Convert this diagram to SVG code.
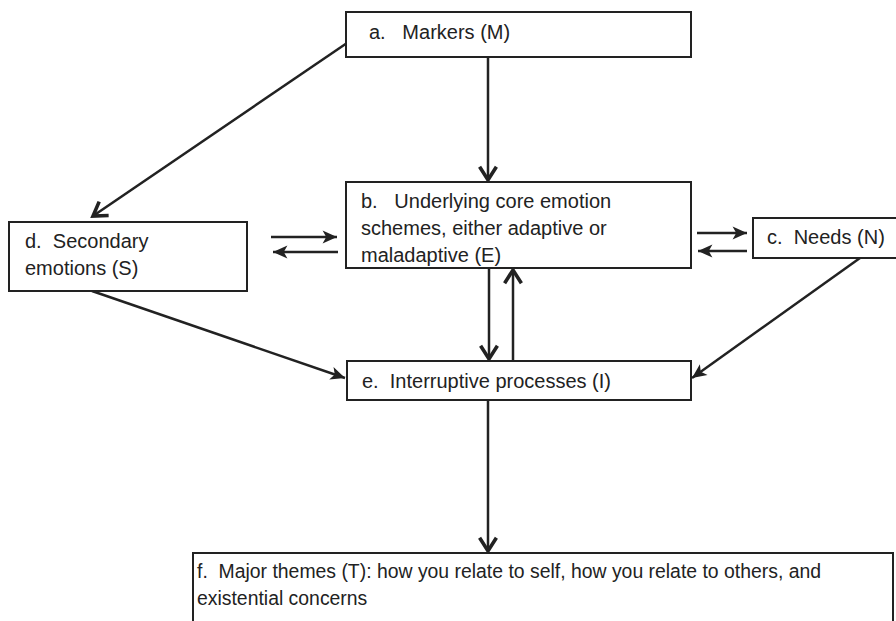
<svg xmlns="http://www.w3.org/2000/svg" width="896" height="621" viewBox="0 0 896 621">
<style>
.box{fill:#fff;stroke:#222;stroke-width:2}
.t{font-family:"Liberation Sans",Arial,sans-serif;font-size:20px;fill:#222;white-space:pre}
.s{font-size:19.4px}
.c{fill:none;stroke:#222;stroke-width:2.5}
</style>
<defs>
<marker id="v" markerUnits="userSpaceOnUse" markerWidth="24" markerHeight="24" viewBox="-14 -10 18 20" refX="0" refY="0" orient="auto">
<path d="M-11,-7 L0,0 L-11,7" fill="none" stroke="#222" stroke-width="3"/>
</marker>
<marker id="f" markerUnits="userSpaceOnUse" markerWidth="24" markerHeight="24" viewBox="-14 -10 18 20" refX="0" refY="0" orient="auto">
<path d="M0,0 L-12,-5.5 L-9,0 L-12,5.5 Z" fill="#222"/>
</marker>
</defs>
<rect width="896" height="621" fill="#fff"/>
<g id="connectors">
<path class="c" d="M488,57 L488,180" marker-end="url(#v)"/>
<path class="c" d="M347,43 L93,216" marker-end="url(#v)"/>
<path class="c" d="M271,237 L337,237" marker-end="url(#f)"/>
<path class="c" d="M338,252 L273,252" marker-end="url(#f)"/>
<path class="c" d="M697,233 L747,233" marker-end="url(#f)"/>
<path class="c" d="M747,251 L698,251" marker-end="url(#f)"/>
<path class="c" d="M489,268 L489,359" marker-end="url(#v)"/>
<path class="c" d="M513,361 L513,270" marker-end="url(#v)"/>
<path class="c" d="M92,291 L345,378" marker-end="url(#f)"/>
<path class="c" d="M860,258 L692,378" marker-end="url(#f)"/>
<path class="c" d="M488,400 L488,551" marker-end="url(#v)"/>
</g>
<g id="a"><rect class="box" x="346" y="12" width="345" height="45"/><text class="t" x="369" y="39" xml:space="preserve">a.   Markers (M)</text></g>
<g id="b"><rect class="box" x="346" y="182" width="345" height="86"/>
<text class="t" x="361" y="208" xml:space="preserve">b.   Underlying core emotion</text>
<text class="t" x="361" y="235">schemes, either adaptive or</text>
<text class="t" x="361" y="262">maladaptive (E)</text></g>
<g id="d"><rect class="box" x="9" y="222" width="238" height="69"/>
<text class="t" x="25" y="248" xml:space="preserve">d.  Secondary</text>
<text class="t" x="25" y="275">emotions (S)</text></g>
<g id="c"><rect class="box" x="753" y="218" width="150" height="40"/><text class="t" x="767" y="244" xml:space="preserve">c.  Needs (N)</text></g>
<g id="e"><rect class="box" x="347" y="361" width="344" height="39"/><text class="t" x="362" y="388" xml:space="preserve">e.  Interruptive processes (I)</text></g>
<g id="f"><rect class="box" x="193" y="553" width="700" height="80"/>
<text class="t s" x="197" y="578" xml:space="preserve">f.  Major themes (T): how you relate to self, how you relate to others, and</text>
<text class="t s" x="197" y="605">existential concerns</text></g>
</svg>
